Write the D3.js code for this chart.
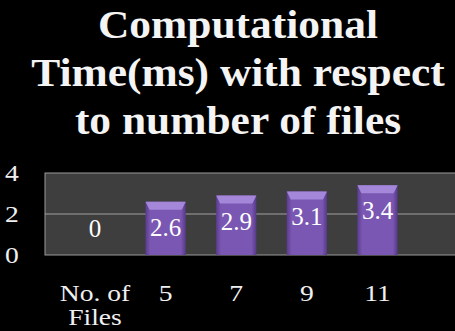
<!DOCTYPE html>
<html>
<head>
<meta charset="utf-8">
<script src="https://cdn.jsdelivr.net/npm/d3@7"></script>
</head>
<body style="margin:0;background:#000">
<script>
// Computational time vs number of files — bevelled purple column chart
const categories = ["No. of Files", "5", "7", "9", "11"];
const values     = [0, 2.6, 2.9, 3.1, 3.4];
const yTicks     = [0, 2, 4];
const titleLines = ["Computational", "Time(ms) with respect", "to number of files"];

const W = 455, H = 331;
const svg = d3.select("body").append("svg")
  .attr("width", W).attr("height", H)
  .attr("font-family", "Liberation Serif, Times New Roman, serif")
  .style("display", "block")
  .style("background", "#000");

// gradient for bars
const defs = svg.append("defs");
const grad = defs.append("linearGradient").attr("id", "barGrad")
  .attr("x1", 0).attr("x2", 1).attr("y1", 0).attr("y2", 0);
grad.append("stop").attr("offset", "0%").attr("stop-color", "#5a3b8e");
grad.append("stop").attr("offset", "12%").attr("stop-color", "#7a57b2");
grad.append("stop").attr("offset", "88%").attr("stop-color", "#7a57b2");
grad.append("stop").attr("offset", "100%").attr("stop-color", "#563888");

// TITLE (slightly widened like the source slide)
svg.append("g").selectAll("text")
  .data(titleLines)
  .join("text")
  .attr("transform", (d, i) => `translate(238,${38 + i * 48}) scale(1.06,1)`)
  .attr("text-anchor", "middle")
  .attr("font-weight", "bold")
  .attr("font-size", 41)
  .attr("fill", "#f4f4f4")
  .text(d => d);

// SCALES
const plotLeft = 45, plotRight = 470;
const x = d3.scaleBand().domain(categories).range([44.5, 428]).padding(0.43);
const y = d3.scaleLinear().domain([0, 4]).range([255, 173]);
const cx = c => x(c) + x.bandwidth() / 2;

// plot background
svg.append("rect")
  .attr("x", plotLeft).attr("y", y(4))
  .attr("width", plotRight - plotLeft).attr("height", y(0) - y(4))
  .attr("fill", "#3e3e3e")
  .attr("stroke", "#9a9a9a");

// gridlines
svg.append("g").selectAll("line")
  .data(yTicks.slice(1, -1))
  .join("line")
  .attr("x1", plotLeft).attr("x2", plotRight)
  .attr("y1", d => y(d)).attr("y2", d => y(d))
  .attr("stroke", "#a0a0a0");

// y tick labels
svg.append("g").selectAll("text")
  .data(yTicks)
  .join("text")
  .attr("transform", d => `translate(5,${y(d) + 8}) scale(1.2,1)`)
  .attr("font-size", 23)
  .attr("fill", "#f0f0f0")
  .text(d => d);

// bars
const bevel = 8;
const bars = svg.append("g").selectAll("g")
  .data(categories.map((c, i) => ({ c, v: values[i] })).filter(d => d.v > 0))
  .join("g");

bars.append("rect")
  .attr("x", d => x(d.c)).attr("y", d => y(d.v))
  .attr("width", x.bandwidth()).attr("height", d => y(0) - y(d.v))
  .attr("fill", "url(#barGrad)");

bars.append("path")
  .attr("d", d => {
    const x0 = x(d.c), x1 = x0 + x.bandwidth(), t = y(d.v);
    return `M${x0},${t}L${x1},${t}L${x1 - 4},${t + bevel}L${x0 + 4},${t + bevel}Z`;
  })
  .attr("fill", "#a487d8");

// data labels
svg.append("g").selectAll("text")
  .data(categories.map((c, i) => ({ c, v: values[i] })))
  .join("text")
  .attr("x", d => cx(d.c))
  .attr("y", d => d.v > 0 ? y(d.v) + 34 : y(0) - 18)
  .attr("text-anchor", "middle")
  .attr("font-size", 25)
  .attr("fill", "#ffffff")
  .text(d => d.v);

// x labels
const xl = svg.append("g").selectAll("text")
  .data(categories)
  .join("text")
  .attr("transform", d => `translate(${cx(d)},301) scale(1.2,1)`)
  .attr("text-anchor", "middle")
  .attr("font-size", 23)
  .attr("fill", "#f0f0f0");

xl.each(function(d) {
  const t = d3.select(this);
  if (d === "No. of Files") {
    t.append("tspan").attr("x", 0).text("No. of");
    t.append("tspan").attr("x", 0).attr("dy", 24).text("Files");
  } else {
    t.text(d);
  }
});
</script>
</body>
</html>
